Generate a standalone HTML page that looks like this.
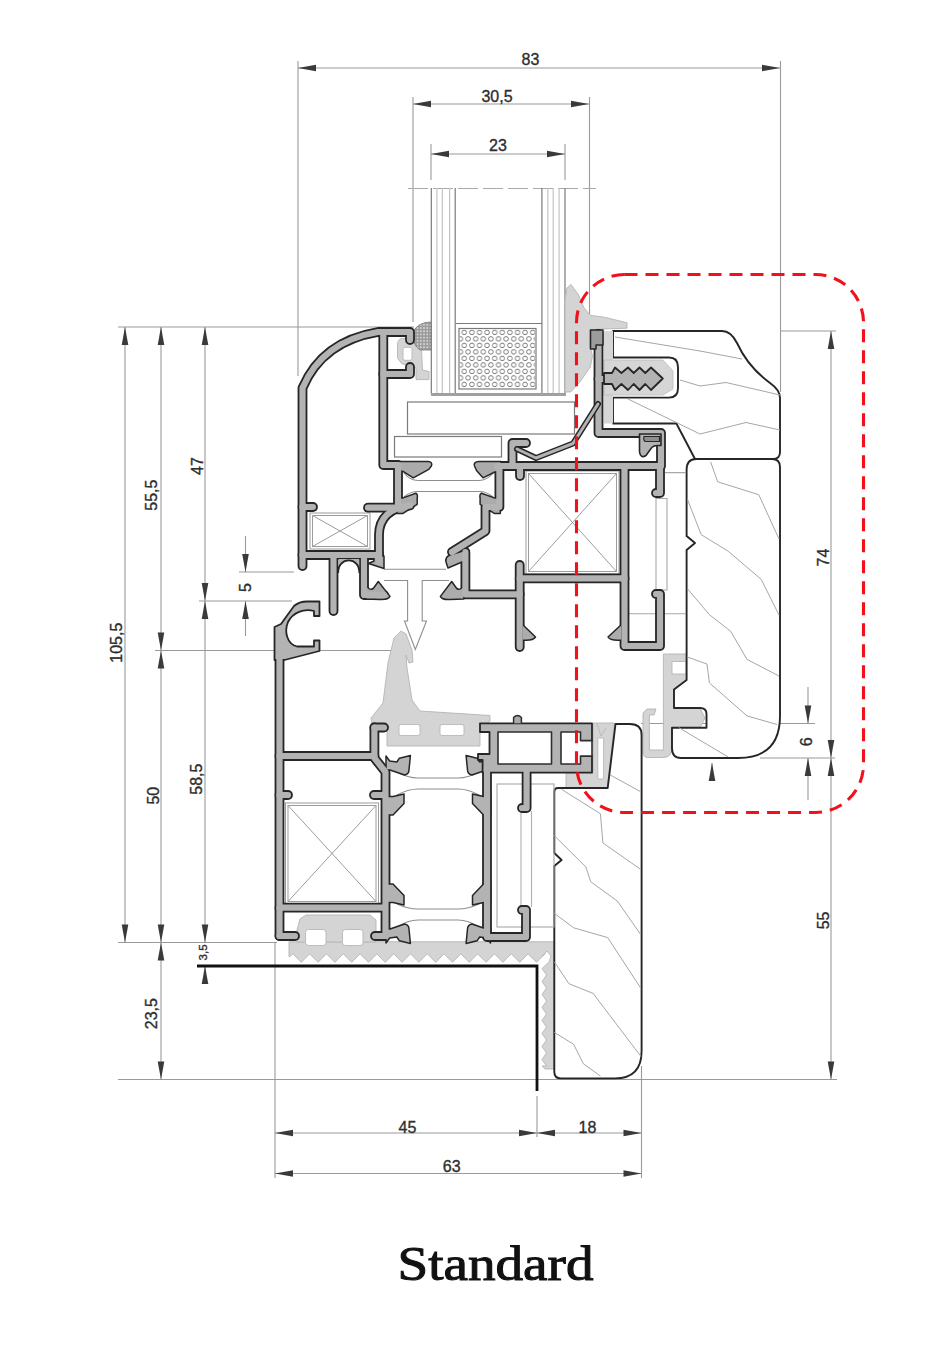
<!DOCTYPE html>
<html><head><meta charset="utf-8">
<style>
html,body{margin:0;padding:0;background:#fff;}
body{width:928px;height:1359px;overflow:hidden;position:relative;}
svg{position:absolute;left:0;top:0;}
.t{font-family:"Liberation Sans",sans-serif;font-size:16px;fill:#2e2e2e;stroke:#2e2e2e;stroke-width:0.35px;}
.st{position:absolute;left:0;top:1232px;width:990px;text-align:center;font-family:"Liberation Serif",serif;font-size:47px;color:#111;}
</style></head><body>
<svg width="928" height="1359" viewBox="0 0 928 1359">
<defs>
<path id="ar" d="M0 0 L-3.3 18 L3.3 18 Z" fill="#3a3a3a"/>
</defs>
<!-- DIMENSION LINES -->
<g stroke="#9a9a9a" stroke-width="1.1" fill="none">
  <!-- top dims -->
  <line x1="298" y1="68" x2="780" y2="68"/>
  <line x1="413" y1="104" x2="589" y2="104"/>
  <line x1="431" y1="154" x2="565" y2="154"/>
  <line x1="298" y1="61" x2="298" y2="376"/>
  <line x1="780.5" y1="61" x2="780.5" y2="392"/>
  <line x1="413" y1="97" x2="413" y2="322"/>
  <line x1="589.5" y1="97" x2="589.5" y2="321"/>
  <line x1="431" y1="144" x2="431" y2="180"/>
  <line x1="565" y1="144" x2="565" y2="180"/>
  <!-- left horizontal ext -->
  <line x1="118" y1="327" x2="414" y2="327"/>
  <line x1="239" y1="572" x2="294" y2="572"/>
  <line x1="199" y1="601" x2="292" y2="601"/>
  <line x1="155" y1="650.5" x2="402" y2="650.5"/>
  <line x1="118" y1="942.5" x2="277" y2="942.5"/>
  <line x1="118" y1="1079.5" x2="837" y2="1079.5"/>
  <!-- left verticals -->
  <line x1="125" y1="327" x2="125" y2="942.5"/>
  <line x1="161" y1="327" x2="161" y2="1079.5"/>
  <line x1="205" y1="327" x2="205" y2="942.5"/>
  <line x1="205" y1="966" x2="205" y2="984"/>
  <line x1="245.5" y1="536" x2="245.5" y2="572"/>
  <line x1="245.5" y1="601" x2="245.5" y2="636"/>
  <!-- bottom -->
  <line x1="275" y1="942" x2="275" y2="1178"/>
  <line x1="537" y1="1096" x2="537" y2="1137"/>
  <line x1="641.5" y1="1066" x2="641.5" y2="1178"/>
  <line x1="275" y1="1133" x2="641.5" y2="1133"/>
  <line x1="275" y1="1173.5" x2="641.5" y2="1173.5"/>
  <!-- right -->
  <line x1="780" y1="331" x2="836" y2="331"/>
  <line x1="831" y1="331" x2="831" y2="1079.5"/>
  <line x1="641" y1="723.5" x2="815" y2="723.5"/>
  <line x1="760" y1="758" x2="835" y2="758"/>
  <line x1="808" y1="687" x2="808" y2="723.5"/>
  <line x1="808" y1="758" x2="808" y2="800"/>
  <line x1="712" y1="763" x2="712" y2="780"/>
</g>
<!-- dash-dot glass top -->
<line x1="408" y1="188.5" x2="596" y2="188.5" stroke="#aaa" stroke-width="1.1" stroke-dasharray="20 5"/>
<!-- ARROWS -->
<g>
  <use href="#ar" transform="translate(298,68) rotate(-90)"/>
  <use href="#ar" transform="translate(780,68) rotate(90)"/>
  <use href="#ar" transform="translate(413,104) rotate(-90)"/>
  <use href="#ar" transform="translate(589,104) rotate(90)"/>
  <use href="#ar" transform="translate(431,154) rotate(-90)"/>
  <use href="#ar" transform="translate(565,154) rotate(90)"/>
  <use href="#ar" transform="translate(125,327)"/>
  <use href="#ar" transform="translate(161,327)"/>
  <use href="#ar" transform="translate(205,327)"/>
  <use href="#ar" transform="translate(125,942.5) rotate(180)"/>
  <use href="#ar" transform="translate(161,942.5) rotate(180)"/>
  <use href="#ar" transform="translate(161,942.5)"/>
  <use href="#ar" transform="translate(205,942.5) rotate(180)"/>
  <use href="#ar" transform="translate(205,966)"/>
  <use href="#ar" transform="translate(161,1079.5) rotate(180)"/>
  <use href="#ar" transform="translate(161,650.5) rotate(180)"/>
  <use href="#ar" transform="translate(161,650.5)"/>
  <use href="#ar" transform="translate(205,601) rotate(180)"/>
  <use href="#ar" transform="translate(205,601)"/>
  <use href="#ar" transform="translate(245.5,572) rotate(180)"/>
  <use href="#ar" transform="translate(245.5,601)"/>
  <use href="#ar" transform="translate(275,1133) rotate(-90)"/>
  <use href="#ar" transform="translate(537,1133) rotate(90)"/>
  <use href="#ar" transform="translate(537,1133) rotate(-90)"/>
  <use href="#ar" transform="translate(641.5,1133) rotate(90)"/>
  <use href="#ar" transform="translate(275,1173.5) rotate(-90)"/>
  <use href="#ar" transform="translate(641.5,1173.5) rotate(90)"/>
  <use href="#ar" transform="translate(831,331)"/>
  <use href="#ar" transform="translate(831,758) rotate(180)"/>
  <use href="#ar" transform="translate(831,758)"/>
  <use href="#ar" transform="translate(831,1079.5) rotate(180)"/>
  <use href="#ar" transform="translate(808,723.5) rotate(180)"/>
  <use href="#ar" transform="translate(808,758)"/>
  <use href="#ar" transform="translate(712,763)"/>
</g>
<!-- TEXT -->
<g class="t" text-anchor="middle">
  <text transform="translate(530.4,65.0)">83</text>
  <text transform="translate(497.0,101.7)">30,5</text>
  <text transform="translate(498.0,151.2)">23</text>
  <text transform="translate(407.4,1132.7)">45</text>
  <text transform="translate(587.5,1132.7)">18</text>
  <text transform="translate(451.7,1172.3)">63</text>
  <text transform="translate(203.3,466.0) rotate(-90)">47</text>
  <text transform="translate(157.0,495.2) rotate(-90)">55,5</text>
  <text transform="translate(121.5,642.7) rotate(-90)">105,5</text>
  <text transform="translate(251.0,587.5) rotate(-90)">5</text>
  <text transform="translate(158.7,795.7) rotate(-90)">50</text>
  <text transform="translate(201.5,779.2) rotate(-90)">58,5</text>
  <text transform="translate(157.0,1013.7) rotate(-90)">23,5</text>
  <text transform="translate(828.5,557.6) rotate(-90)">74</text>
  <text transform="translate(811.5,741.9) rotate(-90)">6</text>
  <text transform="translate(828.8,920.4) rotate(-90)">55</text>
  <text transform="translate(207,952.4) rotate(-90)" style="font-size:11.5px">3,5</text>
</g>

<!-- GLASS -->
<g stroke="#7a7a7a" stroke-width="1.2" fill="none">
  <line x1="431.3" y1="188" x2="431.3" y2="394"/>
  <line x1="455.2" y1="188" x2="455.2" y2="394"/>
  <line x1="541.9" y1="188" x2="541.9" y2="394"/>
  <line x1="565" y1="188" x2="565" y2="394"/>
  <g stroke="#c4c4c4">
  <line x1="436.9" y1="188" x2="436.9" y2="394"/>
  <line x1="442.3" y1="188" x2="442.3" y2="394"/>
  <line x1="449.6" y1="188" x2="449.6" y2="394"/>
  <line x1="547.8" y1="188" x2="547.8" y2="394"/>
  <line x1="553.2" y1="188" x2="553.2" y2="394"/>
  <line x1="559.1" y1="188" x2="559.1" y2="394"/>
  </g>
  <line x1="456" y1="323.5" x2="542" y2="323.5"/>
  <rect x="459" y="328.5" width="77" height="60.5"/>
  <rect x="407.5" y="402" width="167" height="32"/>
  <rect x="394.5" y="436.5" width="107" height="20.5"/>
</g>
<rect x="431" y="393" width="135" height="3" fill="#a0a0a0"/>
<!-- spacer dots -->
<defs>
<pattern id="dots" x="460.5" y="329" width="7.6" height="13" patternUnits="userSpaceOnUse">
<g fill="none" stroke="#6e6e6e" stroke-width="0.9"><circle cx="3.8" cy="3.4" r="2.3"/><circle cx="0" cy="9.9" r="2.3"/><circle cx="7.6" cy="9.9" r="2.3"/></g>
</pattern>
<pattern id="dotsd" width="3.2" height="3.2" patternUnits="userSpaceOnUse">
<rect width="3.2" height="3.2" fill="#9a9a9a"/><circle cx="1.6" cy="1.6" r="0.9" fill="#e0e0e0"/>
</pattern>
</defs>
<rect x="460" y="329.5" width="75" height="58.5" fill="url(#dots)"/>
<!-- PROFILE_START -->
<defs>
<g id="walls">
  <!-- sash -->
  <path d="M302.5 566 V388 C316 356 342 338 378 332 H410 V340"/>
  <path d="M383.3 332 V465 H398 V505"/>
  <path d="M383.3 374 H410 V367"/>
  <path d="M302.5 507 H313"/>
  <path d="M368 507.7 H400"/>
  <path d="M379 562 V535 C379 518 390 508 410 505.5"/>
  <path d="M302.5 555 H379"/>
  <path d="M333.5 555 V611"/>
  <path d="M364 557 V595 H384"/>
  <path d="M497 466 H660"/>
  <path d="M499.4 466 V507 H485.5 V531 L452 552"/>
  <path d="M465.4 552 V594.3 H519.7"/>
  <path d="M519.7 565 V647"/>
  <path d="M519.7 578.4 H624.5"/>
  <path d="M520 466 V476"/>
  <path d="M624.5 466 V646 H660 V594 H656"/>
  <path d="M660 466 V493 H656"/>
  <path d="M512.5 466 V443 H526"/>
  <path d="M598.5 334 V433 H661 V466"/>
  <path d="M598.5 379 H606"/>
  <!-- frame -->
  <path d="M279.5 936 V645"/>
  <path d="M279.5 936 H295"/>
  <path d="M279.5 756 H374.4"/>
  <path d="M374.4 727.5 H384"/>
  <path d="M374.4 727.5 V758 L385.5 772 V936 H375"/>
  <path d="M279.5 907.7 H384.5"/>
  <path d="M279.5 795 H288"/>
  <path d="M374 795 H384.5"/>
  <path d="M487 768 V937 H526 V910 H522"/>
  <path d="M526.6 768 V808 H522"/>
</g>
</defs>


<!-- gaskets -->
<g fill="#d4d4d4" stroke="#b4b4b4" stroke-width="0.9" stroke-linejoin="round">
  <path d="M371 718 L383 703 L388 663 L394 638 L401 631 L406 634 L412 650 L413 662 L409 663 L406 655 L407 668 L412 700 L420 711 L490 715.5 L490 721 L480 729 L480 746 L387 746 L387 731 L373 731 Z"/>
  <path d="M289.0 941.8 L289.0 957.0 L292.9 953.8 L301.3 962.3 L309.7 953.8 L318.1 962.3 L326.5 953.8 L334.9 962.3 L343.3 953.8 L351.7 962.3 L360.1 953.8 L368.5 962.3 L376.9 953.8 L385.3 962.3 L393.7 953.8 L402.1 962.3 L410.5 953.8 L418.9 962.3 L427.3 953.8 L435.7 962.3 L444.1 953.8 L452.5 962.3 L460.9 953.8 L469.3 962.3 L477.7 953.8 L486.1 962.3 L494.5 953.8 L502.9 962.3 L511.3 953.8 L519.7 962.3 L528.1 953.8 L536.5 962.3 L544.9 953.8 L543.0 956.0 L547.0 951.0 L551.0 956.0 L549.0 962.0 L542.0 968.5 L546.5 975.0 L542.0 981.5 L546.5 988.0 L542.0 994.5 L546.5 1001.0 L542.0 1007.5 L546.5 1014.0 L542.0 1020.5 L546.5 1027.0 L542.0 1033.5 L546.5 1040.0 L542.0 1046.5 L546.5 1053.0 L542.0 1059.5 L546.5 1066.0 L542.0 1066.0 L545.0 1069.0 L553.9 1069.0 L553.9 941.8 Z"/>
  <path d="M297 930 L300 919 L306 915 L370 915 L376 920 L376 942 L297 942 Z"/>
  <path d="M565 392 L565 300 L567 288 L571 284.5 L578.5 294.8 L583.9 307.7 L590.3 315.3 L605.4 317.4 L627 322.8 L627 328.2 L590 329.5 L589.8 345.4 L592.5 356.2 L590.3 367 L580.6 381 L571 391.8 Z"/>
  <path d="M397.5 344 Q398 338.4 403 338.4 L421 338.4 L422.5 370 L429 371.6 L429 379.6 L416 379.6 L416 368 L401.5 363.5 L397.5 358 Z"/>
  <path d="M663.4 654 H686.6 V680 L674 690 V708 L700 708 L705 718 L700 727.8 H672 V748 Q672 757.5 663 757.5 H648 Q643 757.5 643 752 V713 L647 709 H656 L654 715 H649.4 V750 H663.4 Z"/>
  <path d="M566 772 H593 V723 H614.5 L607.5 787.5 H566 Z"/>
  <path d="M580.5 740.7 H592 V756 H580.5 Z"/>
</g>
<g fill="#fff" stroke="#b8b8b8" stroke-width="0.9">
  <rect x="399" y="724.5" width="21" height="11" rx="2"/>
  <rect x="440" y="724.5" width="24" height="11" rx="2"/>
  <rect x="305.5" y="929.5" width="20.5" height="16" rx="3"/>
  <rect x="342.5" y="929.5" width="20.5" height="16" rx="3"/>
  <rect x="403" y="347.3" width="9" height="13" rx="2"/>
  <rect x="672" y="661.5" width="14" height="12.5"/>
  <rect x="597.8" y="738" width="5.8" height="41" rx="1"/>
  <rect x="582" y="746" width="10" height="6.5" rx="1"/>
  <path d="M597 724 L601 736 L606 728" fill="none"/>
</g>
<path d="M431 322 Q418 322 413 332 Q412 345 420 350 L431 350 Z" fill="url(#dotsd)" stroke="#777" stroke-width="0.8"/>

<!-- wood -->
<g fill="#fff" stroke="#262626" stroke-width="1.9" stroke-linejoin="round">
  <path d="M613 331 H722 Q731 331 737 343 Q748 367 770 383 Q780 390 780 398 V452 Q780 459 773 459 H695 L676.4 423.5 H613 V397.6 H669 Q678 397.6 678 388 V367 Q678 357.5 669 357.5 H613 Z"/>
  <path d="M696 459 H772 Q780 459 780 467 V716 Q780 758 738 758 H681 Q672 758 672 748 V727.8 H706.5 V714 Q706.5 708 700 708 H674 V689.6 L686.6 680 V550 L695 543 L686.6 536 V470 Q686.6 459 696 459 Z"/>
  <path d="M554.3 792 Q554.3 788 558 788 H607.7 L615.5 724 H630 Q641.6 724 641.6 735 V1051 Q641.6 1078.4 615 1078.4 H561 Q554.3 1078.4 554.3 1072 V866 L561.6 860 L554.3 853 Z"/>
</g>
<g fill="none" stroke="#a6a6a6" stroke-width="1">
  <path d="M615 337 L700 351 L742 359"/>
  <path d="M680 380 L700 386 L726 382.5 L780 395"/>
  <path d="M628 399 L700 434 L746 422.5 L780 430"/>
  <path d="M554.3 835.6 L585.9 867 L590.7 881.7 L617.4 901.1 L641 935"/>
  <path d="M554.3 913.3 L573.7 927.8 L607.7 937.6 L641 988.5"/>
  <path d="M554.3 961.8 L568.9 983.7 L593.1 993.4 L641 1056.5"/>
  <path d="M554.3 1032.3 L573.7 1044.4 L583.4 1063.8 L600.4 1076"/>
  <path d="M561.6 789.4 L600.4 813.7 L602.9 842.9 L641 869.6"/>
  <path d="M610 774.9 L641 791.9"/>
  <path d="M710.6 461.8 L717.6 481.8 L758.8 494.7 L779 539"/>
  <path d="M687.5 499.4 L701.2 534.7 L728.2 551.2 L761.2 579.4 L779 615"/>
  <path d="M687.5 588.8 L709.4 614.7 L730.6 631.2 L747 659.4 L779 676"/>
  <path d="M687.5 657 L707 664.1 L709.4 682.9 L747 715.9 L777 724.5"/>
  <path d="M678.8 727.6 L728.2 757"/>
</g>

<!-- clip insert -->
<path d="M604 331 H613 V423.5 H604 Z" fill="#d6d6d6"/>
<path d="M604 360 L663 360 L673 371 L673 389 L663 395 L604 395 Z" fill="#d6d6d6" stroke="#bdbdbd" stroke-width="0.8"/>
<!-- X boxes & polyamide -->
<g fill="none" stroke="#9c9c9c" stroke-width="1">
  <rect x="310" y="513" width="60" height="36"/>
  <rect x="312.5" y="515.5" width="55" height="31"/>
  <path d="M312.5 515.5 L367.5 546.5 M367.5 515.5 L312.5 546.5"/>
  <rect x="526" y="471" width="93" height="103"/>
  <rect x="528.5" y="473.5" width="88" height="98"/>
  <path d="M528.5 473.5 L616.5 571.5 M616.5 473.5 L528.5 571.5"/>
  <rect x="285.5" y="803" width="93" height="101"/>
  <rect x="288" y="805.5" width="88" height="96"/>
  <path d="M288 805.5 L376 901.5 M376 805.5 L288 901.5"/>
</g>
<g fill="#fff" stroke="#8e8e8e" stroke-width="1.1">
  <path d="M404 473 Q410 480.5 418 480.5 H479 Q487 480.5 493 473 M404 497 Q410 491.5 418 491.5 H479 Q487 491.5 493 497" fill="none"/>
  <path d="M384 569.3 H446 M384 580.5 H407.6 V621 H404.5 L415.3 649.5 L426.5 621 H422.2 V580.5 H449" fill="none"/>
  <path d="M397 772 Q408 778 418 778 H458 Q468 778 479 772 M397 795 Q408 789 418 789 H458 Q468 789 479 795" fill="none"/>
  <path d="M397 904 Q408 909 418 909 H458 Q468 909 479 904 M397 927 Q408 920 418 920 H458 Q468 920 479 927" fill="none"/>
  <rect x="497" y="784" width="57" height="143" fill="none" stroke="#a8a8a8"/>
  <path d="M521 811 V907 M531.5 811 V907" fill="none" stroke="#b0b0b0"/>
  <path d="M656 498.5 H667 V590 H656 Z M629 613.8 H686 M665 472.6 H686" fill="none" stroke="#a8a8a8"/>
</g>
<g fill="none" stroke-linejoin="round" stroke-linecap="round">
  <use href="#walls" stroke="#262626" stroke-width="9.8"/>
</g>
<!-- wedges -->
<g fill="#acacac" stroke="#262626" stroke-width="1.5" stroke-linejoin="round">
  <path fill="#ababab" d="M397 461.6 L428 461.6 Q433 462 431.4 466 L428.8 469.4 L413.3 477.8 L403 471.3 L397 471.3 Z"/>
  <path fill="#ababab" d="M501 461.6 L479 461.6 Q473 462 474.5 466 L476.5 470.5 L483 477.8 L494.8 472 L501 472 Z"/>
  <path fill="#ababab" d="M397 497.9 L403 497.9 L415.9 493.3 Q418 494 417.2 498 L417.2 504.3 L403 513.4 L397 513.4 Z"/>
  <path fill="#ababab" d="M 500.3 497.9 L 494.3 497.9 L 481.4 493.3 Q 479.3 494.0 480.1 498.0 L 480.1 504.3 L 494.3 513.4 L 500.3 513.4 Z"/>
  <path d="M366 586 L369 588.5 Q372 590.5 374 587.5 L378.3 581.5 L390 596.4 Q388 600 380 599.5 L366 599 Z"/>
  <path d="M374 556 L384 556 L384 568.5 L368.5 563.5 L374 561 Z"/>
  <path d="M464 586 L461 588.5 Q458 590.5 456 587.5 L451.7 581.5 L440.4 596.4 Q442 600 450 599.5 L464 599 Z"/>
  <path d="M466 550 L450 555 Q445 557 446 562 L448 568 L462 562 L466 562 Z"/>
  <path d="M522 624 L535.5 637 Q533 641 522 640 Z"/>
  <path d="M622 624 L608 637 Q610 641 622 640 Z"/>
  <path fill="#b3b3b3" d="M 386.0 770.0 L 390.0 770.0 L 404.6 775.0 Q 409.0 774.0 409.0 770.0 L 410.4 755.6 L 399.4 758.2 L 396.8 762.0 L 389.7 761.0 L 386.0 756.0 Z"/>
  <path fill="#b3b3b3" d="M 386.0 815.0 H 393 L 404.0 803.5 V 794.0 L 393.0 796.4 H 386 Z"/>
  <path fill="#b3b3b3" d="M386 884 H393 L404 895.5 V905 L393 902.6 H386 Z"/>
  <path fill="#b3b3b3" d="M386 929 L390 929 L404.6 924 Q409 925 409 929 L410.4 943.4 L399.4 940.8 L396.8 937 L389.7 938 L386 943 Z"/>
  <path fill="#b3b3b3" d="M 490.5 770.0 L 486.5 770.0 L 471.9 775.0 Q 467.5 774.0 467.5 770.0 L 466.1 755.6 L 477.1 758.2 L 479.7 762.0 L 486.8 761.0 L 490.5 756.0 Z"/>
  <path fill="#b3b3b3" d="M 490.5 815.0 H 483.5 L 472.5 803.5 V 794.0 L 483.5 796.4 H 490.5 Z"/>
  <path fill="#b3b3b3" d="M 490.5 884.0 H 483.5 L 472.5 895.5 V 905 L 483.5 902.6 H 490.5 Z"/>
  <path fill="#b3b3b3" d="M 490.5 929.0 L 486.5 929.0 L 471.9 924.0 Q 467.5 925.0 467.5 929.0 L 466.1 943.4 L 477.1 940.8 L 479.7 937.0 L 486.8 938.0 L 490.5 943.0 Z"/>
</g>
<!-- chamber block -->
<path d="M480 723.3 H592 V740.7 H580.5 V756 H592 V772.7 H482.6 V760 H478 V754 H489.5 V732 H480 Z" fill="#b3b3b3" stroke="#262626" stroke-width="1.8" stroke-linejoin="round"/>
<path d="M498 732 H551.5 V764 H498 Z M561 732 H580.5 V740.7 H592 V756 H580.5 V764 H561 Z" fill="#fff" stroke="#2e2e2e" stroke-width="1.6" stroke-linejoin="round"/>
<path d="M513.6 723.3 V717.5 Q517.5 713.5 521.4 717.5 V723.3" fill="#ababab" stroke="#2e2e2e" stroke-width="1.5"/>


<path d="M274.5 640 L274.5 627 L281 624 L294 606 Q299 601.5 307 601.5 L319.5 601.5 L319.5 616 L314 616 L314 611 C304 608.5 293 612 288 622 C284 632 287 644 297 646.5 L314 646.5 L314 640.5 L319.5 640.5 L319.5 651 C308 654 296 657 284.5 660 L274.5 660 Z" fill="#b3b3b3" stroke="#262626" stroke-width="1.8" stroke-linejoin="round"/>
<g fill="none" stroke-linejoin="round" stroke-linecap="round">
  <use href="#walls" stroke="#b3b3b3" stroke-width="6.2"/>
</g>

<path d="M604 373 L612 373 L615 367.5 L621.4 373 L628 367.5 L633.7 373 L639.5 367.5 L645.3 373 L651 367.5 L662.8 378.5 L651 390 L645.3 384 L639.5 390 L633.7 384 L628 390 L621.4 384 L615 390 L612 384 L604 384 Z" fill="#b3b3b3" stroke="#262626" stroke-width="1.8" stroke-linejoin="round"/>
<path d="M590.5 330 H603 V345 H596 V349 H590.5 Z" fill="#9c9c9c" stroke="#262626" stroke-width="1.5" stroke-linejoin="round"/>
<path d="M639.5 434 L639.5 452 Q640.5 459 646 455.5 L651 448.5 Q653 445.5 657.5 445.5 L661 445.5 L661 434 Z" fill="#b3b3b3" stroke="#262626" stroke-width="1.6" stroke-linejoin="round"/>
<path d="M644 436.5 H659.5 V441.5 H646 Q643 441.5 644 436.5 Z" fill="#8e8e8e" stroke="#262626" stroke-width="1.2"/>
<g fill="none" stroke-linejoin="round" stroke-linecap="round">
  <path d="M517 449 L536 458 L573 443.5 L598 404" stroke="#262626" stroke-width="6"/>
  <path d="M517 449 L536 458 L573 443.5 L598 404" stroke="#b3b3b3" stroke-width="3"/>
</g>
<path d="M338.4 559 H359.2 V571 A10.4 10.4 0 0 0 338.4 571 Z" fill="#b3b3b3"/>
<path d="M338.2 573 V571 A10.5 10.5 0 0 1 359.3 571 V573" fill="none" stroke="#262626" stroke-width="1.8"/>

<!-- PROFILE_END -->
<!-- SILL -->
<path d="M197 966 H537 V1091" fill="none" stroke="#111" stroke-width="2.8"/>
<!-- RED DASHED -->
<rect x="576.5" y="274.5" width="287" height="538" rx="48" ry="48" fill="none" stroke="#f2101a" stroke-width="3.1" stroke-dasharray="13 8"/>
<text x="397.5" y="1280" font-family="Liberation Serif" font-size="48" textLength="196" lengthAdjust="spacingAndGlyphs" fill="#111" stroke="#111" stroke-width="1.0">Standard</text>
</svg>
</body></html>
